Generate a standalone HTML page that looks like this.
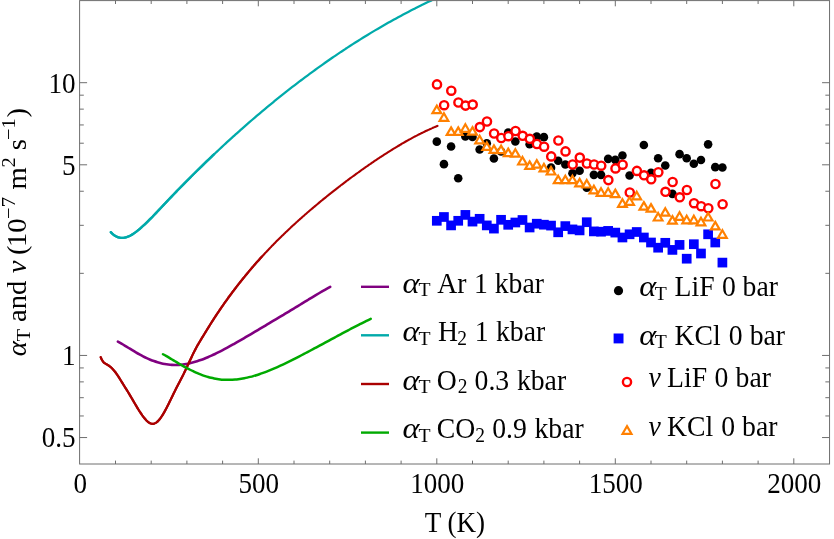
<!DOCTYPE html>
<html><head><meta charset="utf-8"><title>chart</title>
<style>html,body{margin:0;padding:0;background:#fff}body{width:834px;height:539px;overflow:hidden;font-family:"Liberation Serif",serif}svg{display:block}</style>
</head><body>
<svg width="834" height="539" viewBox="0 0 834 539">
<rect width="834" height="539" fill="#fff"/>
<defs><clipPath id="c"><rect x="79.6" y="0.6" width="749.9499999999999" height="463.4"/></clipPath></defs>
<g clip-path="url(#c)">
<path fill="none" stroke="#800080" stroke-width="2.6" stroke-linecap="round" d="M117.9 341.7C118.5 342.03 120.3 343.01 121.5 343.7C122.7 344.38 123.9 345.1 125.1 345.82C126.3 346.54 127.5 347.27 128.69 348C129.89 348.73 131.09 349.47 132.29 350.19C133.49 350.91 134.69 351.63 135.89 352.33C137.09 353.03 138.29 353.72 139.49 354.38C140.69 355.04 141.89 355.69 143.09 356.31C144.29 356.93 145.49 357.52 146.69 358.09C147.89 358.65 149.09 359.18 150.28 359.69C151.48 360.19 152.68 360.66 153.88 361.09C155.08 361.53 156.28 361.93 157.48 362.29C158.68 362.65 159.88 362.98 161.08 363.27C162.28 363.56 163.48 363.81 164.68 364.03C165.88 364.24 167.08 364.42 168.28 364.56C169.48 364.7 170.68 364.81 171.87 364.87C173.07 364.94 174.27 364.97 175.47 364.96C176.67 364.95 177.87 364.91 179.07 364.83C180.27 364.75 181.47 364.64 182.67 364.5C183.87 364.35 185.07 364.17 186.27 363.96C187.47 363.75 188.67 363.51 189.87 363.24C191.07 362.97 192.26 362.67 193.46 362.34C194.66 362.02 195.86 361.66 197.06 361.28C198.26 360.9 199.46 360.5 200.66 360.07C201.86 359.64 203.06 359.19 204.26 358.72C205.46 358.25 206.66 357.75 207.86 357.24C209.06 356.73 210.26 356.2 211.46 355.66C212.66 355.11 213.85 354.55 215.05 353.97C216.25 353.4 217.45 352.8 218.65 352.2C219.85 351.6 221.05 350.98 222.25 350.35C223.45 349.73 224.65 349.09 225.85 348.44C227.05 347.8 228.25 347.14 229.45 346.48C230.65 345.82 231.85 345.15 233.05 344.47C234.25 343.8 235.44 343.12 236.64 342.43C237.84 341.75 239.04 341.06 240.24 340.36C241.44 339.67 242.64 338.97 243.84 338.27C245.04 337.57 246.24 336.87 247.44 336.17C248.64 335.46 249.84 334.75 251.04 334.05C252.24 333.34 253.44 332.63 254.64 331.92C255.84 331.21 257.03 330.5 258.23 329.79C259.43 329.08 260.63 328.37 261.83 327.66C263.03 326.94 264.23 326.23 265.43 325.52C266.63 324.81 267.83 324.09 269.03 323.38C270.23 322.66 271.43 321.95 272.63 321.24C273.83 320.52 275.03 319.81 276.23 319.09C277.42 318.37 278.62 317.66 279.82 316.94C281.02 316.22 282.22 315.5 283.42 314.78C284.62 314.06 285.82 313.34 287.02 312.62C288.22 311.89 289.42 311.17 290.62 310.44C291.82 309.72 293.02 308.99 294.22 308.26C295.42 307.53 296.62 306.81 297.82 306.08C299.01 305.35 300.21 304.61 301.41 303.88C302.61 303.15 303.81 302.42 305.01 301.69C306.21 300.96 307.41 300.22 308.61 299.49C309.81 298.76 311.01 298.03 312.21 297.31C313.41 296.58 314.61 295.86 315.81 295.14C317.01 294.42 318.21 293.71 319.41 293C320.6 292.3 321.8 291.6 323 290.91C324.2 290.22 325.4 289.54 326.6 288.88C327.8 288.22 329.6 287.26 330.2 286.93"/>
<path fill="none" stroke="#00aaaa" stroke-width="2.25" stroke-linecap="round" d="M110.8 232.17C111.22 232.57 112.48 233.87 113.32 234.56C114.16 235.24 115 235.8 115.84 236.26C116.68 236.73 117.52 237.08 118.36 237.34C119.2 237.61 120.04 237.77 120.88 237.85C121.72 237.93 122.56 237.92 123.4 237.84C124.24 237.75 125.09 237.59 125.93 237.36C126.77 237.13 127.61 236.83 128.45 236.47C129.29 236.11 130.13 235.69 130.97 235.23C131.81 234.76 132.65 234.23 133.49 233.68C134.33 233.12 135.17 232.51 136.01 231.88C136.85 231.25 137.69 230.57 138.53 229.89C139.37 229.2 140.21 228.48 141.05 227.75C141.89 227.01 142.73 226.26 143.57 225.48C144.41 224.71 145.25 223.92 146.09 223.11C146.93 222.31 147.77 221.48 148.61 220.65C149.45 219.82 150.29 218.97 151.13 218.11C151.98 217.25 152.82 216.38 153.66 215.5C154.5 214.63 155.34 213.75 156.18 212.86C157.02 211.97 157.86 211.07 158.7 210.18C159.54 209.28 160.38 208.38 161.22 207.49C162.06 206.59 162.9 205.7 163.74 204.81C164.58 203.92 165.42 203.04 166.26 202.15C167.1 201.27 167.94 200.38 168.78 199.5C169.62 198.62 170.46 197.74 171.3 196.86C172.14 195.98 172.98 195.11 173.82 194.24C174.66 193.36 175.5 192.49 176.34 191.63C177.18 190.76 178.02 189.89 178.87 189.03C179.71 188.17 180.55 187.31 181.39 186.45C182.23 185.59 183.07 184.74 183.91 183.88C184.75 183.03 185.59 182.18 186.43 181.33C187.27 180.48 188.11 179.64 188.95 178.79C189.79 177.95 190.63 177.11 191.47 176.27C192.31 175.43 193.15 174.59 193.99 173.76C194.83 172.93 195.67 172.09 196.51 171.26C197.35 170.44 198.19 169.61 199.03 168.78C199.87 167.96 200.71 167.14 201.55 166.32C202.39 165.5 203.23 164.68 204.07 163.87C204.91 163.05 205.76 162.24 206.6 161.43C207.44 160.62 208.28 159.81 209.12 159.01C209.96 158.2 210.8 157.4 211.64 156.6C212.48 155.8 213.32 155 214.16 154.2C215 153.41 215.84 152.61 216.68 151.82C217.52 151.03 218.36 150.24 219.2 149.46C220.04 148.67 220.88 147.89 221.72 147.11C222.56 146.32 223.4 145.54 224.24 144.77C225.08 143.99 225.92 143.22 226.76 142.44C227.6 141.67 228.44 140.9 229.28 140.14C230.12 139.37 230.96 138.6 231.8 137.84C232.64 137.08 233.49 136.32 234.33 135.56C235.17 134.8 236.01 134.05 236.85 133.29C237.69 132.54 238.53 131.79 239.37 131.04C240.21 130.29 241.05 129.55 241.89 128.8C242.73 128.06 243.57 127.32 244.41 126.58C245.25 125.84 246.09 125.1 246.93 124.37C247.77 123.63 248.61 122.9 249.45 122.17C250.29 121.44 251.13 120.71 251.97 119.99C252.81 119.26 253.65 118.54 254.49 117.82C255.33 117.1 256.17 116.38 257.01 115.67C257.85 114.95 258.69 114.24 259.53 113.53C260.38 112.82 261.22 112.11 262.06 111.4C262.9 110.7 263.74 109.99 264.58 109.29C265.42 108.59 266.26 107.89 267.1 107.19C267.94 106.5 268.78 105.8 269.62 105.11C270.46 104.42 271.3 103.73 272.14 103.04C272.98 102.35 273.82 101.67 274.66 100.98C275.5 100.3 276.34 99.62 277.18 98.94C278.02 98.26 278.86 97.59 279.7 96.91C280.54 96.24 281.38 95.57 282.22 94.9C283.06 94.23 283.9 93.56 284.74 92.9C285.58 92.24 286.42 91.57 287.27 90.91C288.11 90.25 288.95 89.6 289.79 88.94C290.63 88.29 291.47 87.63 292.31 86.98C293.15 86.33 293.99 85.68 294.83 85.04C295.67 84.39 296.51 83.75 297.35 83.11C298.19 82.47 299.03 81.83 299.87 81.19C300.71 80.56 301.55 79.92 302.39 79.29C303.23 78.66 304.07 78.03 304.91 77.4C305.75 76.77 306.59 76.15 307.43 75.53C308.27 74.9 309.11 74.28 309.95 73.67C310.79 73.05 311.63 72.43 312.47 71.82C313.31 71.21 314.16 70.59 315 69.99C315.84 69.38 316.68 68.77 317.52 68.17C318.36 67.56 319.2 66.96 320.04 66.36C320.88 65.76 321.72 65.16 322.56 64.57C323.4 63.97 324.24 63.38 325.08 62.79C325.92 62.2 326.76 61.61 327.6 61.03C328.44 60.44 329.28 59.86 330.12 59.28C330.96 58.7 331.8 58.12 332.64 57.54C333.48 56.97 334.32 56.39 335.16 55.82C336 55.25 336.84 54.68 337.68 54.11C338.52 53.54 339.36 52.98 340.2 52.42C341.04 51.85 341.89 51.29 342.73 50.74C343.57 50.18 344.41 49.62 345.25 49.07C346.09 48.52 346.93 47.96 347.77 47.42C348.61 46.87 349.45 46.32 350.29 45.78C351.13 45.23 351.97 44.69 352.81 44.15C353.65 43.61 354.49 43.07 355.33 42.54C356.17 42 357.01 41.47 357.85 40.94C358.69 40.41 359.53 39.88 360.37 39.36C361.21 38.83 362.05 38.31 362.89 37.79C363.73 37.27 364.57 36.75 365.41 36.23C366.25 35.72 367.09 35.2 367.93 34.69C368.78 34.18 369.62 33.67 370.46 33.16C371.3 32.65 372.14 32.15 372.98 31.65C373.82 31.14 374.66 30.64 375.5 30.15C376.34 29.65 377.18 29.15 378.02 28.66C378.86 28.16 379.7 27.67 380.54 27.19C381.38 26.7 382.22 26.21 383.06 25.73C383.9 25.24 384.74 24.76 385.58 24.28C386.42 23.8 387.26 23.32 388.1 22.85C388.94 22.37 389.78 21.9 390.62 21.43C391.46 20.96 392.3 20.49 393.14 20.03C393.98 19.56 394.82 19.1 395.67 18.64C396.51 18.18 397.35 17.72 398.19 17.26C399.03 16.8 399.87 16.35 400.71 15.9C401.55 15.45 402.39 15 403.23 14.55C404.07 14.1 404.91 13.66 405.75 13.22C406.59 12.77 407.43 12.33 408.27 11.89C409.11 11.46 409.95 11.02 410.79 10.59C411.63 10.15 412.47 9.72 413.31 9.29C414.15 8.87 414.99 8.44 415.83 8.02C416.67 7.59 417.51 7.17 418.35 6.75C419.19 6.33 420.03 5.91 420.87 5.5C421.71 5.08 422.56 4.67 423.4 4.26C424.24 3.85 425.08 3.44 425.92 3.04C426.76 2.63 427.6 2.23 428.44 1.83C429.28 1.43 430.12 1.03 430.96 0.63C431.8 0.24 432.64 -0.16 433.48 -0.55C434.32 -0.94 435.58 -1.52 436 -1.72"/>
<path fill="none" stroke="#00aaaa" stroke-width="2.4" stroke-linecap="round" d="M110.8 232.17C111.22 232.57 112.48 233.87 113.32 234.56C114.16 235.24 115 235.8 115.84 236.26C116.68 236.73 117.52 237.08 118.36 237.34C119.2 237.61 120.04 237.77 120.88 237.85C121.72 237.93 122.56 237.92 123.4 237.84C124.24 237.75 125.09 237.59 125.93 237.36C126.77 237.13 127.61 236.83 128.45 236.47C129.29 236.11 130.13 235.69 130.97 235.23C131.81 234.76 132.65 234.23 133.49 233.68C134.33 233.12 135.17 232.51 136.01 231.88C136.85 231.25 137.69 230.57 138.53 229.89C139.37 229.2 140.21 228.48 141.05 227.75C141.89 227.01 142.73 226.26 143.57 225.48C144.41 224.71 145.25 223.92 146.09 223.11C146.93 222.31 147.77 221.48 148.61 220.65C149.45 219.82 150.29 218.97 151.13 218.11C151.98 217.25 152.82 216.38 153.66 215.5C154.5 214.63 155.34 213.75 156.18 212.86C157.02 211.97 157.86 211.07 158.7 210.18C159.54 209.28 160.38 208.38 161.22 207.49C162.06 206.59 162.9 205.7 163.74 204.81C164.58 203.92 165.42 203.04 166.26 202.15C167.1 201.27 167.94 200.38 168.78 199.5C169.62 198.62 170.46 197.74 171.3 196.86C172.14 195.98 172.98 195.11 173.82 194.24C174.66 193.36 175.5 192.49 176.34 191.63C177.18 190.76 178.02 189.89 178.87 189.03C179.71 188.17 180.55 187.31 181.39 186.45C182.23 185.59 183.07 184.74 183.91 183.88C184.75 183.03 185.59 182.18 186.43 181.33C187.27 180.48 188.11 179.64 188.95 178.79C189.79 177.95 190.63 177.11 191.47 176.27C192.31 175.43 193.15 174.59 193.99 173.76C194.83 172.93 195.67 172.09 196.51 171.26C197.35 170.44 198.19 169.61 199.03 168.78C199.87 167.96 200.71 167.14 201.55 166.32C202.39 165.5 203.23 164.68 204.07 163.87C204.91 163.05 205.76 162.24 206.6 161.43C207.44 160.62 208.28 159.81 209.12 159.01C209.96 158.2 210.8 157.4 211.64 156.6C212.48 155.8 213.74 154.6 214.16 154.2"/>
<path fill="none" stroke="#aa0000" stroke-width="2.1" stroke-linecap="round" d="M100.7 357.16C100.92 357.65 101.57 359.27 102 360.06C102.43 360.85 102.87 361.4 103.3 361.9C103.73 362.4 104.17 362.74 104.6 363.07C105.03 363.39 105.47 363.61 105.9 363.87C106.34 364.13 106.77 364.35 107.2 364.61C107.64 364.88 108.07 365.16 108.5 365.46C108.94 365.76 109.37 366.08 109.8 366.43C110.24 366.77 110.67 367.13 111.1 367.52C111.54 367.91 111.97 368.33 112.4 368.77C112.84 369.21 113.27 369.68 113.7 370.18C114.14 370.67 114.57 371.2 115 371.76C115.44 372.31 115.87 372.9 116.3 373.51C116.74 374.12 117.17 374.76 117.61 375.41C118.04 376.06 118.47 376.73 118.91 377.41C119.34 378.09 119.77 378.78 120.21 379.47C120.64 380.17 121.07 380.87 121.51 381.57C121.94 382.27 122.37 382.96 122.81 383.66C123.24 384.35 123.67 385.05 124.11 385.74C124.54 386.44 124.97 387.13 125.41 387.83C125.84 388.52 126.27 389.22 126.71 389.92C127.14 390.62 127.57 391.32 128.01 392.03C128.44 392.74 128.88 393.45 129.31 394.17C129.74 394.89 130.18 395.61 130.61 396.34C131.04 397.07 131.48 397.8 131.91 398.54C132.34 399.28 132.78 400.02 133.21 400.76C133.64 401.5 134.08 402.24 134.51 402.98C134.94 403.72 135.38 404.45 135.81 405.18C136.24 405.91 136.68 406.64 137.11 407.35C137.54 408.07 137.98 408.78 138.41 409.47C138.84 410.17 139.28 410.86 139.71 411.53C140.15 412.2 140.58 412.86 141.01 413.5C141.45 414.14 141.88 414.76 142.31 415.37C142.75 415.97 143.18 416.56 143.61 417.12C144.05 417.68 144.48 418.22 144.91 418.74C145.35 419.25 145.78 419.74 146.21 420.2C146.65 420.65 147.08 421.08 147.51 421.47C147.95 421.85 148.38 422.21 148.81 422.51C149.25 422.81 149.68 423.08 150.11 423.28C150.55 423.49 150.98 423.66 151.42 423.76C151.85 423.86 152.28 423.9 152.72 423.89C153.15 423.88 153.58 423.8 154.02 423.68C154.45 423.55 154.88 423.37 155.32 423.13C155.75 422.9 156.18 422.61 156.62 422.28C157.05 421.95 157.48 421.57 157.92 421.14C158.35 420.72 158.78 420.25 159.22 419.74C159.65 419.23 160.08 418.68 160.52 418.09C160.95 417.5 161.38 416.88 161.82 416.22C162.25 415.56 162.69 414.87 163.12 414.15C163.55 413.43 163.99 412.68 164.42 411.91C164.85 411.14 165.29 410.34 165.72 409.53C166.15 408.72 166.59 407.88 167.02 407.03C167.45 406.19 167.89 405.32 168.32 404.45C168.75 403.58 169.19 402.69 169.62 401.8C170.05 400.91 170.49 400.01 170.92 399.12C171.35 398.22 171.79 397.32 172.22 396.43C172.65 395.54 173.09 394.64 173.52 393.76C173.96 392.88 174.39 392 174.82 391.14C175.26 390.27 175.69 389.42 176.12 388.58C176.56 387.73 176.99 386.9 177.42 386.07C177.86 385.24 178.29 384.41 178.72 383.58C179.16 382.75 179.59 381.93 180.02 381.09C180.46 380.26 180.89 379.43 181.32 378.58C181.76 377.74 182.19 376.88 182.62 376.02C183.06 375.15 183.49 374.27 183.92 373.38C184.36 372.49 184.79 371.59 185.23 370.67C185.66 369.76 186.09 368.84 186.53 367.91C186.96 366.99 187.39 366.05 187.83 365.12C188.26 364.19 188.69 363.25 189.13 362.31C189.56 361.38 189.99 360.44 190.43 359.52C190.86 358.59 191.29 357.66 191.73 356.75C192.16 355.84 192.59 354.93 193.03 354.03C193.46 353.14 193.89 352.25 194.33 351.39C194.76 350.53 195.19 349.7 195.63 348.88C196.06 348.06 196.5 347.27 196.93 346.49C197.36 345.71 197.8 344.95 198.23 344.2C198.66 343.45 199.1 342.71 199.53 341.98C199.96 341.25 200.4 340.53 200.83 339.81C201.26 339.09 201.7 338.38 202.13 337.67C202.56 336.96 203 336.25 203.43 335.54C203.86 334.84 204.3 334.13 204.73 333.43C205.16 332.72 205.6 332.01 206.03 331.3C206.46 330.6 206.9 329.88 207.33 329.18C207.77 328.47 208.2 327.77 208.63 327.08C209.07 326.38 209.5 325.69 209.93 325C210.37 324.31 210.8 323.62 211.23 322.94C211.67 322.25 212.1 321.58 212.53 320.9C212.97 320.22 213.4 319.55 213.83 318.88C214.27 318.22 214.7 317.55 215.13 316.89C215.57 316.23 216 315.57 216.43 314.91C216.87 314.26 217.3 313.61 217.73 312.96C218.17 312.31 218.6 311.67 219.04 311.03C219.47 310.38 219.9 309.75 220.34 309.11C220.77 308.48 221.2 307.85 221.64 307.22C222.07 306.59 222.5 305.96 222.94 305.34C223.37 304.72 223.8 304.1 224.24 303.48C224.67 302.87 225.1 302.26 225.54 301.65C225.97 301.04 226.4 300.43 226.84 299.83C227.27 299.22 227.7 298.62 228.14 298.02C228.57 297.42 229 296.83 229.44 296.24C229.87 295.65 230.31 295.06 230.74 294.47C231.17 293.88 231.61 293.3 232.04 292.72C232.47 292.14 232.91 291.56 233.34 290.99C233.77 290.41 234.21 289.84 234.64 289.27C235.07 288.7 235.51 288.13 235.94 287.57C236.37 287.01 236.81 286.44 237.24 285.89C237.67 285.33 238.11 284.77 238.54 284.22C238.97 283.66 239.41 283.11 239.84 282.56C240.27 282.01 240.71 281.47 241.14 280.92C241.58 280.38 242.01 279.84 242.44 279.3C242.88 278.76 243.31 278.23 243.74 277.69C244.18 277.16 244.61 276.63 245.04 276.1C245.48 275.57 245.91 275.04 246.34 274.52C246.78 274 247.21 273.47 247.64 272.95C248.08 272.44 248.51 271.92 248.94 271.4C249.38 270.89 249.81 270.38 250.24 269.86C250.68 269.35 251.11 268.85 251.54 268.34C251.98 267.83 252.41 267.33 252.85 266.83C253.28 266.33 253.71 265.83 254.15 265.33C254.58 264.83 255.01 264.34 255.45 263.84C255.88 263.35 256.31 262.86 256.75 262.37C257.18 261.88 257.61 261.39 258.05 260.91C258.48 260.42 258.91 259.94 259.35 259.46C259.78 258.98 260.21 258.5 260.65 258.02C261.08 257.54 261.51 257.07 261.95 256.59C262.38 256.12 262.81 255.65 263.25 255.18C263.68 254.71 264.12 254.24 264.55 253.77C264.98 253.31 265.42 252.84 265.85 252.38C266.28 251.92 266.72 251.46 267.15 251C267.58 250.54 268.02 250.08 268.45 249.63C268.88 249.17 269.32 248.72 269.75 248.27C270.18 247.81 270.62 247.36 271.05 246.91C271.48 246.47 271.92 246.02 272.35 245.57C272.78 245.13 273.22 244.68 273.65 244.24C274.08 243.8 274.52 243.36 274.95 242.92C275.39 242.48 275.82 242.04 276.25 241.61C276.69 241.17 277.12 240.74 277.55 240.3C277.99 239.87 278.42 239.44 278.85 239.01C279.29 238.58 279.72 238.15 280.15 237.73C280.59 237.3 281.02 236.87 281.45 236.45C281.89 236.03 282.32 235.6 282.75 235.18C283.19 234.76 283.62 234.34 284.05 233.92C284.49 233.5 284.92 233.09 285.35 232.67C285.79 232.26 286.22 231.84 286.66 231.43C287.09 231.02 287.52 230.61 287.96 230.2C288.39 229.79 288.82 229.38 289.26 228.97C289.69 228.56 290.12 228.15 290.56 227.75C290.99 227.34 291.42 226.94 291.86 226.54C292.29 226.14 292.72 225.73 293.16 225.33C293.59 224.93 294.02 224.54 294.46 224.14C294.89 223.74 295.32 223.34 295.76 222.95C296.19 222.55 296.62 222.16 297.06 221.77C297.49 221.37 297.93 220.98 298.36 220.59C298.79 220.2 299.23 219.81 299.66 219.42C300.09 219.03 300.53 218.65 300.96 218.26C301.39 217.87 301.83 217.49 302.26 217.11C302.69 216.72 303.13 216.34 303.56 215.96C303.99 215.57 304.43 215.19 304.86 214.81C305.29 214.43 305.73 214.06 306.16 213.68C306.59 213.3 307.03 212.92 307.46 212.55C307.89 212.17 308.33 211.8 308.76 211.42C309.2 211.05 309.63 210.68 310.06 210.31C310.5 209.93 310.93 209.56 311.36 209.19C311.8 208.82 312.23 208.46 312.66 208.09C313.1 207.72 313.53 207.35 313.96 206.99C314.4 206.62 314.83 206.26 315.26 205.89C315.7 205.53 316.13 205.16 316.56 204.8C317 204.44 317.43 204.08 317.86 203.72C318.3 203.36 318.73 203 319.16 202.64C319.6 202.28 320.03 201.92 320.47 201.56C320.9 201.21 321.33 200.85 321.77 200.5C322.2 200.14 322.63 199.79 323.07 199.43C323.5 199.08 323.93 198.73 324.37 198.37C324.8 198.02 325.23 197.67 325.67 197.32C326.1 196.97 326.53 196.62 326.97 196.27C327.4 195.92 327.83 195.58 328.27 195.23C328.7 194.88 329.13 194.54 329.57 194.19C330 193.85 330.43 193.5 330.87 193.16C331.3 192.81 331.74 192.47 332.17 192.13C332.6 191.79 333.04 191.44 333.47 191.1C333.9 190.76 334.34 190.42 334.77 190.08C335.2 189.75 335.64 189.41 336.07 189.07C336.5 188.73 336.94 188.39 337.37 188.06C337.8 187.72 338.24 187.39 338.67 187.05C339.1 186.72 339.54 186.38 339.97 186.05C340.4 185.72 340.84 185.39 341.27 185.05C341.7 184.72 342.14 184.39 342.57 184.06C343.01 183.73 343.44 183.4 343.87 183.07C344.31 182.75 344.74 182.42 345.17 182.09C345.61 181.76 346.04 181.44 346.47 181.11C346.91 180.79 347.34 180.46 347.77 180.14C348.21 179.81 348.64 179.49 349.07 179.17C349.51 178.84 349.94 178.52 350.37 178.2C350.81 177.88 351.24 177.56 351.67 177.24C352.11 176.92 352.54 176.6 352.97 176.28C353.41 175.96 353.84 175.65 354.28 175.33C354.71 175.01 355.14 174.7 355.58 174.38C356.01 174.06 356.44 173.75 356.88 173.44C357.31 173.12 357.74 172.81 358.18 172.5C358.61 172.18 359.04 171.87 359.48 171.56C359.91 171.25 360.34 170.94 360.78 170.63C361.21 170.32 361.64 170.01 362.08 169.71C362.51 169.4 362.94 169.09 363.38 168.78C363.81 168.48 364.24 168.17 364.68 167.87C365.11 167.56 365.55 167.26 365.98 166.95C366.41 166.65 366.85 166.35 367.28 166.05C367.71 165.74 368.15 165.44 368.58 165.14C369.01 164.84 369.45 164.54 369.88 164.24C370.31 163.95 370.75 163.65 371.18 163.35C371.61 163.05 372.05 162.76 372.48 162.46C372.91 162.17 373.35 161.87 373.78 161.58C374.21 161.28 374.65 160.99 375.08 160.7C375.51 160.4 375.95 160.11 376.38 159.82C376.82 159.53 377.25 159.24 377.68 158.95C378.12 158.66 378.55 158.38 378.98 158.09C379.42 157.8 379.85 157.51 380.28 157.23C380.72 156.94 381.15 156.66 381.58 156.37C382.02 156.09 382.45 155.81 382.88 155.53C383.32 155.24 383.75 154.96 384.18 154.68C384.62 154.4 385.05 154.12 385.48 153.84C385.92 153.56 386.35 153.29 386.78 153.01C387.22 152.73 387.65 152.46 388.09 152.18C388.52 151.91 388.95 151.63 389.39 151.36C389.82 151.09 390.25 150.82 390.69 150.55C391.12 150.27 391.55 150 391.99 149.74C392.42 149.47 392.85 149.2 393.29 148.93C393.72 148.66 394.15 148.4 394.59 148.13C395.02 147.87 395.45 147.6 395.89 147.34C396.32 147.08 396.75 146.82 397.19 146.55C397.62 146.29 398.05 146.03 398.49 145.77C398.92 145.52 399.36 145.26 399.79 145C400.22 144.74 400.66 144.49 401.09 144.23C401.52 143.98 401.96 143.73 402.39 143.47C402.82 143.22 403.26 142.97 403.69 142.72C404.12 142.47 404.56 142.22 404.99 141.97C405.42 141.73 405.86 141.48 406.29 141.23C406.72 140.99 407.16 140.74 407.59 140.5C408.02 140.26 408.46 140.02 408.89 139.78C409.32 139.54 409.76 139.3 410.19 139.06C410.63 138.82 411.06 138.58 411.49 138.35C411.93 138.11 412.36 137.88 412.79 137.65C413.23 137.41 413.66 137.18 414.09 136.95C414.53 136.72 414.96 136.49 415.39 136.26C415.83 136.04 416.26 135.81 416.69 135.59C417.13 135.36 417.56 135.14 417.99 134.91C418.43 134.69 418.86 134.47 419.29 134.25C419.73 134.03 420.16 133.82 420.59 133.6C421.03 133.38 421.46 133.17 421.9 132.95C422.33 132.74 422.76 132.53 423.2 132.32C423.63 132.11 424.06 131.9 424.5 131.69C424.93 131.48 425.36 131.28 425.8 131.07C426.23 130.87 426.66 130.67 427.1 130.46C427.53 130.26 427.96 130.06 428.4 129.86C428.83 129.67 429.26 129.47 429.7 129.28C430.13 129.08 430.56 128.89 431 128.7C431.43 128.5 431.86 128.31 432.3 128.13C432.73 127.94 433.17 127.75 433.6 127.57C434.03 127.38 434.47 127.2 434.9 127.02C435.33 126.84 435.77 126.66 436.2 126.48C436.63 126.3 437.28 126.04 437.5 125.95"/>
<path fill="none" stroke="#aa0000" stroke-width="2.25" stroke-linecap="round" d="M100.7 357.16C100.92 357.65 101.57 359.27 102 360.06C102.43 360.85 102.87 361.4 103.3 361.9C103.73 362.4 104.17 362.74 104.6 363.07C105.03 363.39 105.47 363.61 105.9 363.87C106.34 364.13 106.77 364.35 107.2 364.61C107.64 364.88 108.07 365.16 108.5 365.46C108.94 365.76 109.37 366.08 109.8 366.43C110.24 366.77 110.67 367.13 111.1 367.52C111.54 367.91 111.97 368.33 112.4 368.77C112.84 369.21 113.27 369.68 113.7 370.18C114.14 370.67 114.57 371.2 115 371.76C115.44 372.31 115.87 372.9 116.3 373.51C116.74 374.12 117.17 374.76 117.61 375.41C118.04 376.06 118.47 376.73 118.91 377.41C119.34 378.09 119.77 378.78 120.21 379.47C120.64 380.17 121.07 380.87 121.51 381.57C121.94 382.27 122.37 382.96 122.81 383.66C123.24 384.35 123.67 385.05 124.11 385.74C124.54 386.44 124.97 387.13 125.41 387.83C125.84 388.52 126.27 389.22 126.71 389.92C127.14 390.62 127.57 391.32 128.01 392.03C128.44 392.74 128.88 393.45 129.31 394.17C129.74 394.89 130.18 395.61 130.61 396.34C131.04 397.07 131.48 397.8 131.91 398.54C132.34 399.28 132.78 400.02 133.21 400.76C133.64 401.5 134.08 402.24 134.51 402.98C134.94 403.72 135.38 404.45 135.81 405.18C136.24 405.91 136.68 406.64 137.11 407.35C137.54 408.07 137.98 408.78 138.41 409.47C138.84 410.17 139.28 410.86 139.71 411.53C140.15 412.2 140.58 412.86 141.01 413.5C141.45 414.14 141.88 414.76 142.31 415.37C142.75 415.97 143.18 416.56 143.61 417.12C144.05 417.68 144.48 418.22 144.91 418.74C145.35 419.25 145.78 419.74 146.21 420.2C146.65 420.65 147.08 421.08 147.51 421.47C147.95 421.85 148.38 422.21 148.81 422.51C149.25 422.81 149.68 423.08 150.11 423.28C150.55 423.49 150.98 423.66 151.42 423.76C151.85 423.86 152.28 423.9 152.72 423.89C153.15 423.88 153.58 423.8 154.02 423.68C154.45 423.55 154.88 423.37 155.32 423.13C155.75 422.9 156.18 422.61 156.62 422.28C157.05 421.95 157.48 421.57 157.92 421.14C158.35 420.72 158.78 420.25 159.22 419.74C159.65 419.23 160.08 418.68 160.52 418.09C160.95 417.5 161.38 416.88 161.82 416.22C162.25 415.56 162.69 414.87 163.12 414.15C163.55 413.43 163.99 412.68 164.42 411.91C164.85 411.14 165.29 410.34 165.72 409.53C166.15 408.72 166.59 407.88 167.02 407.03C167.45 406.19 167.89 405.32 168.32 404.45C168.75 403.58 169.19 402.69 169.62 401.8C170.05 400.91 170.49 400.01 170.92 399.12C171.35 398.22 171.79 397.32 172.22 396.43C172.65 395.54 173.09 394.64 173.52 393.76C173.96 392.88 174.39 392 174.82 391.14C175.26 390.27 175.69 389.42 176.12 388.58C176.56 387.73 176.99 386.9 177.42 386.07C177.86 385.24 178.29 384.41 178.72 383.58C179.16 382.75 179.59 381.93 180.02 381.09C180.46 380.26 180.89 379.43 181.32 378.58C181.76 377.74 182.19 376.88 182.62 376.02C183.06 375.15 183.49 374.27 183.92 373.38C184.36 372.49 184.79 371.59 185.23 370.67C185.66 369.76 186.09 368.84 186.53 367.91C186.96 366.99 187.39 366.05 187.83 365.12C188.26 364.19 188.69 363.25 189.13 362.31C189.56 361.38 189.99 360.44 190.43 359.52C190.86 358.59 191.29 357.66 191.73 356.75C192.16 355.84 192.59 354.93 193.03 354.03C193.46 353.14 193.89 352.25 194.33 351.39C194.76 350.53 195.19 349.7 195.63 348.88C196.06 348.06 196.5 347.27 196.93 346.49C197.36 345.71 197.8 344.95 198.23 344.2C198.66 343.45 199.1 342.71 199.53 341.98C199.96 341.25 200.4 340.53 200.83 339.81C201.26 339.09 201.7 338.38 202.13 337.67C202.56 336.96 203 336.25 203.43 335.54C203.86 334.84 204.3 334.13 204.73 333.43C205.16 332.72 205.6 332.01 206.03 331.3C206.46 330.6 206.9 329.88 207.33 329.18C207.77 328.47 208.2 327.77 208.63 327.08C209.07 326.38 209.5 325.69 209.93 325C210.37 324.31 210.8 323.62 211.23 322.94C211.67 322.25 212.1 321.58 212.53 320.9C212.97 320.22 213.4 319.55 213.83 318.88C214.27 318.22 214.7 317.55 215.13 316.89C215.57 316.23 216 315.57 216.43 314.91C216.87 314.26 217.3 313.61 217.73 312.96C218.17 312.31 218.6 311.67 219.04 311.03C219.47 310.38 219.9 309.75 220.34 309.11C220.77 308.48 221.2 307.85 221.64 307.22C222.07 306.59 222.5 305.96 222.94 305.34C223.37 304.72 223.8 304.1 224.24 303.48C224.67 302.87 225.1 302.26 225.54 301.65C225.97 301.04 226.4 300.43 226.84 299.83C227.27 299.22 227.7 298.62 228.14 298.02C228.57 297.42 229 296.83 229.44 296.24C229.87 295.65 230.31 295.06 230.74 294.47C231.17 293.88 231.61 293.3 232.04 292.72C232.47 292.14 232.91 291.56 233.34 290.99C233.77 290.41 234.21 289.84 234.64 289.27C235.07 288.7 235.51 288.13 235.94 287.57C236.37 287.01 236.81 286.44 237.24 285.89C237.67 285.33 238.11 284.77 238.54 284.22C238.97 283.66 239.41 283.11 239.84 282.56C240.27 282.01 240.71 281.47 241.14 280.92C241.58 280.38 242.01 279.84 242.44 279.3C242.88 278.76 243.31 278.23 243.74 277.69C244.18 277.16 244.61 276.63 245.04 276.1C245.48 275.57 245.91 275.04 246.34 274.52C246.78 274 247.21 273.47 247.64 272.95C248.08 272.44 248.51 271.92 248.94 271.4C249.38 270.89 249.81 270.38 250.24 269.86C250.68 269.35 251.11 268.85 251.54 268.34C251.98 267.83 252.41 267.33 252.85 266.83C253.28 266.33 253.71 265.83 254.15 265.33C254.58 264.83 255.01 264.34 255.45 263.84C255.88 263.35 256.31 262.86 256.75 262.37C257.18 261.88 257.61 261.39 258.05 260.91C258.48 260.42 258.91 259.94 259.35 259.46C259.78 258.98 260.21 258.5 260.65 258.02C261.08 257.54 261.73 256.83 261.95 256.59"/>
<path fill="none" stroke="#00aa00" stroke-width="2.5" stroke-linecap="round" d="M163 354.23C163.5 354.51 165.01 355.34 166.01 355.92C167.01 356.49 168.02 357.08 169.02 357.67C170.02 358.27 171.03 358.87 172.03 359.47C173.03 360.07 174.04 360.67 175.04 361.27C176.04 361.87 177.05 362.47 178.05 363.07C179.05 363.66 180.06 364.25 181.06 364.83C182.06 365.41 183.07 365.98 184.07 366.54C185.07 367.1 186.08 367.65 187.08 368.19C188.08 368.73 189.09 369.25 190.09 369.76C191.09 370.27 192.1 370.77 193.1 371.24C194.1 371.72 195.11 372.18 196.11 372.63C197.11 373.07 198.12 373.49 199.12 373.9C200.13 374.31 201.13 374.69 202.13 375.06C203.14 375.43 204.14 375.77 205.14 376.1C206.15 376.42 207.15 376.73 208.15 377.01C209.16 377.3 210.16 377.56 211.16 377.8C212.17 378.04 213.17 378.26 214.17 378.46C215.18 378.66 216.18 378.84 217.18 378.99C218.19 379.15 219.19 379.28 220.19 379.4C221.2 379.51 222.2 379.6 223.2 379.67C224.21 379.74 225.21 379.79 226.21 379.82C227.22 379.85 228.22 379.86 229.22 379.85C230.23 379.83 231.23 379.8 232.23 379.75C233.24 379.7 234.24 379.63 235.24 379.54C236.25 379.45 237.25 379.34 238.25 379.22C239.26 379.09 240.26 378.95 241.26 378.79C242.27 378.63 243.27 378.45 244.27 378.25C245.28 378.06 246.28 377.85 247.28 377.62C248.29 377.39 249.29 377.15 250.29 376.89C251.3 376.64 252.3 376.37 253.3 376.08C254.31 375.8 255.31 375.5 256.31 375.19C257.32 374.87 258.32 374.55 259.32 374.21C260.33 373.88 261.33 373.53 262.33 373.17C263.34 372.81 264.34 372.44 265.34 372.06C266.35 371.67 267.35 371.28 268.36 370.88C269.36 370.48 270.36 370.07 271.37 369.65C272.37 369.23 273.37 368.81 274.38 368.37C275.38 367.94 276.38 367.49 277.39 367.05C278.39 366.6 279.39 366.14 280.4 365.68C281.4 365.21 282.4 364.74 283.41 364.27C284.41 363.79 285.41 363.31 286.42 362.83C287.42 362.34 288.42 361.85 289.43 361.36C290.43 360.86 291.43 360.36 292.44 359.86C293.44 359.36 294.44 358.85 295.45 358.34C296.45 357.83 297.45 357.32 298.46 356.8C299.46 356.28 300.46 355.76 301.47 355.24C302.47 354.72 303.47 354.2 304.48 353.67C305.48 353.14 306.48 352.62 307.49 352.09C308.49 351.56 309.49 351.02 310.5 350.49C311.5 349.96 312.5 349.42 313.51 348.89C314.51 348.35 315.51 347.82 316.52 347.28C317.52 346.74 318.52 346.2 319.53 345.66C320.53 345.12 321.53 344.58 322.54 344.04C323.54 343.5 324.54 342.96 325.55 342.42C326.55 341.88 327.55 341.34 328.56 340.8C329.56 340.26 330.56 339.72 331.57 339.18C332.57 338.63 333.57 338.09 334.58 337.55C335.58 337.01 336.59 336.47 337.59 335.93C338.59 335.39 339.6 334.86 340.6 334.32C341.6 333.78 342.61 333.24 343.61 332.71C344.61 332.17 345.62 331.64 346.62 331.1C347.62 330.57 348.63 330.04 349.63 329.51C350.63 328.98 351.64 328.45 352.64 327.92C353.64 327.4 354.65 326.88 355.65 326.36C356.65 325.84 357.66 325.32 358.66 324.8C359.66 324.29 360.67 323.78 361.67 323.28C362.67 322.77 363.68 322.27 364.68 321.77C365.68 321.28 366.69 320.78 367.69 320.3C368.69 319.82 370.2 319.1 370.7 318.87"/>
</g>
<g fill="#000"><circle cx="436.8" cy="141.65" r="4.3"/><circle cx="443.94" cy="164.15" r="4.3"/><circle cx="451.08" cy="146.45" r="4.3"/><circle cx="458.22" cy="178.25" r="4.3"/><circle cx="465.36" cy="136.45" r="4.3"/><circle cx="472.5" cy="137.05" r="4.3"/><circle cx="479.64" cy="149.55" r="4.3"/><circle cx="486.78" cy="143.25" r="4.3"/><circle cx="493.92" cy="158.55" r="4.3"/><circle cx="501.06" cy="151.55" r="4.3"/><circle cx="508.2" cy="132.55" r="4.3"/><circle cx="515.34" cy="141.45" r="4.3"/><circle cx="529.62" cy="144.25" r="4.3"/><circle cx="536.76" cy="136.65" r="4.3"/><circle cx="543.9" cy="137.15" r="4.3"/><circle cx="551.04" cy="167.65" r="4.3"/><circle cx="558.18" cy="160.75" r="4.3"/><circle cx="565.32" cy="164.55" r="4.3"/><circle cx="572.46" cy="173.25" r="4.3"/><circle cx="579.6" cy="170.75" r="4.3"/><circle cx="586.74" cy="187.65" r="4.3"/><circle cx="593.88" cy="174.85" r="4.3"/><circle cx="601.02" cy="174.85" r="4.3"/><circle cx="608.16" cy="158.85" r="4.3"/><circle cx="615.3" cy="159.85" r="4.3"/><circle cx="622.44" cy="155.45" r="4.3"/><circle cx="629.58" cy="175.45" r="4.3"/><circle cx="643.86" cy="145.05" r="4.3"/><circle cx="651" cy="172.75" r="4.3"/><circle cx="658.14" cy="158.25" r="4.3"/><circle cx="665.28" cy="165.45" r="4.3"/><circle cx="672.42" cy="193.85" r="4.3"/><circle cx="679.56" cy="154.15" r="4.3"/><circle cx="686.7" cy="158.25" r="4.3"/><circle cx="693.84" cy="163.75" r="4.3"/><circle cx="700.98" cy="159.95" r="4.3"/><circle cx="708.12" cy="144.35" r="4.3"/><circle cx="715.26" cy="167.15" r="4.3"/><circle cx="722.4" cy="167.55" r="4.3"/></g>
<g fill="#0000ff"><rect x="431.95" y="215.95" width="9.7" height="9.7"/><rect x="439.09" y="212.15" width="9.7" height="9.7"/><rect x="446.23" y="220.55" width="9.7" height="9.7"/><rect x="453.37" y="215.95" width="9.7" height="9.7"/><rect x="460.51" y="210.05" width="9.7" height="9.7"/><rect x="467.65" y="216.75" width="9.7" height="9.7"/><rect x="474.79" y="213.95" width="9.7" height="9.7"/><rect x="481.93" y="220.55" width="9.7" height="9.7"/><rect x="489.07" y="223.75" width="9.7" height="9.7"/><rect x="496.21" y="214.95" width="9.7" height="9.7"/><rect x="503.35" y="219.95" width="9.7" height="9.7"/><rect x="510.49" y="217.65" width="9.7" height="9.7"/><rect x="517.63" y="215.15" width="9.7" height="9.7"/><rect x="524.77" y="222.65" width="9.7" height="9.7"/><rect x="531.91" y="218.85" width="9.7" height="9.7"/><rect x="539.05" y="219.85" width="9.7" height="9.7"/><rect x="546.19" y="220.75" width="9.7" height="9.7"/><rect x="553.33" y="227.45" width="9.7" height="9.7"/><rect x="560.47" y="221.25" width="9.7" height="9.7"/><rect x="567.61" y="224.55" width="9.7" height="9.7"/><rect x="574.75" y="225.55" width="9.7" height="9.7"/><rect x="581.89" y="217.35" width="9.7" height="9.7"/><rect x="589.03" y="226.55" width="9.7" height="9.7"/><rect x="596.17" y="226.85" width="9.7" height="9.7"/><rect x="603.31" y="226.05" width="9.7" height="9.7"/><rect x="610.45" y="227.75" width="9.7" height="9.7"/><rect x="617.59" y="232.65" width="9.7" height="9.7"/><rect x="624.73" y="229.45" width="9.7" height="9.7"/><rect x="631.87" y="227.15" width="9.7" height="9.7"/><rect x="639.01" y="232.65" width="9.7" height="9.7"/><rect x="646.15" y="237.65" width="9.7" height="9.7"/><rect x="653.29" y="242.85" width="9.7" height="9.7"/><rect x="660.43" y="237.95" width="9.7" height="9.7"/><rect x="667.57" y="245.05" width="9.7" height="9.7"/><rect x="674.71" y="240.05" width="9.7" height="9.7"/><rect x="681.85" y="253.85" width="9.7" height="9.7"/><rect x="688.99" y="239.35" width="9.7" height="9.7"/><rect x="696.13" y="248.65" width="9.7" height="9.7"/><rect x="703.27" y="229.45" width="9.7" height="9.7"/><rect x="710.41" y="237.65" width="9.7" height="9.7"/><rect x="717.55" y="257.75" width="9.7" height="9.7"/></g>
<g fill="#fff" stroke="#ff0000" stroke-width="2.4"><circle cx="437" cy="84.4" r="4.1"/><circle cx="444.14" cy="105.2" r="4.1"/><circle cx="451.28" cy="90.7" r="4.1"/><circle cx="458.42" cy="102.5" r="4.1"/><circle cx="465.56" cy="105.6" r="4.1"/><circle cx="472.7" cy="104.6" r="4.1"/><circle cx="479.84" cy="127.1" r="4.1"/><circle cx="486.98" cy="121.5" r="4.1"/><circle cx="494.12" cy="133.5" r="4.1"/><circle cx="501.26" cy="138" r="4.1"/><circle cx="508.4" cy="136.2" r="4.1"/><circle cx="515.54" cy="131" r="4.1"/><circle cx="522.68" cy="135.8" r="4.1"/><circle cx="529.82" cy="138.8" r="4.1"/><circle cx="536.96" cy="144" r="4.1"/><circle cx="544.1" cy="146.7" r="4.1"/><circle cx="551.24" cy="156.4" r="4.1"/><circle cx="558.38" cy="140.5" r="4.1"/><circle cx="565.52" cy="151.4" r="4.1"/><circle cx="572.66" cy="164.5" r="4.1"/><circle cx="579.8" cy="157.6" r="4.1"/><circle cx="586.94" cy="163.5" r="4.1"/><circle cx="594.08" cy="164.5" r="4.1"/><circle cx="601.22" cy="165.7" r="4.1"/><circle cx="608.36" cy="180.1" r="4.1"/><circle cx="615.5" cy="168.4" r="4.1"/><circle cx="622.64" cy="164.7" r="4.1"/><circle cx="629.78" cy="192.5" r="4.1"/><circle cx="636.92" cy="170.9" r="4.1"/><circle cx="644.06" cy="175.3" r="4.1"/><circle cx="651.2" cy="179.3" r="4.1"/><circle cx="658.34" cy="172.2" r="4.1"/><circle cx="665.48" cy="191.8" r="4.1"/><circle cx="672.62" cy="182" r="4.1"/><circle cx="679.76" cy="197.3" r="4.1"/><circle cx="686.9" cy="190" r="4.1"/><circle cx="694.04" cy="203.2" r="4.1"/><circle cx="701.18" cy="206.2" r="4.1"/><circle cx="708.32" cy="208.2" r="4.1"/><circle cx="715.46" cy="184" r="4.1"/><circle cx="722.6" cy="204.2" r="4.1"/></g>
<g fill="#fff" stroke="#ff8000" stroke-width="2.2" stroke-linejoin="miter" stroke-miterlimit="10"><path d="M436.8 105.58L441.15 113.12L432.45 113.12Z"/><path d="M443.94 113.28L448.29 120.82L439.59 120.82Z"/><path d="M451.08 127.38L455.43 134.92L446.73 134.92Z"/><path d="M458.22 127.38L462.57 134.92L453.87 134.92Z"/><path d="M465.36 124.28L469.71 131.82L461.01 131.82Z"/><path d="M472.5 127.08L476.85 134.62L468.15 134.62Z"/><path d="M479.64 135.78L483.99 143.32L475.29 143.32Z"/><path d="M486.78 142.38L491.13 149.92L482.43 149.92Z"/><path d="M493.92 145.38L498.27 152.92L489.57 152.92Z"/><path d="M501.06 145.58L505.41 153.12L496.71 153.12Z"/><path d="M508.2 148.58L512.55 156.12L503.85 156.12Z"/><path d="M515.34 149.18L519.69 156.72L510.99 156.72Z"/><path d="M522.48 156.98L526.83 164.52L518.13 164.52Z"/><path d="M529.62 161.38L533.97 168.92L525.27 168.92Z"/><path d="M536.76 160.08L541.11 167.62L532.41 167.62Z"/><path d="M543.9 163.88L548.25 171.42L539.55 171.42Z"/><path d="M551.04 166.98L555.39 174.52L546.69 174.52Z"/><path d="M558.18 175.68L562.53 183.22L553.83 183.22Z"/><path d="M565.32 175.68L569.67 183.22L560.97 183.22Z"/><path d="M572.46 175.68L576.81 183.22L568.11 183.22Z"/><path d="M579.6 178.88L583.95 186.42L575.25 186.42Z"/><path d="M586.74 179.98L591.09 187.52L582.39 187.52Z"/><path d="M593.88 185.78L598.23 193.32L589.53 193.32Z"/><path d="M601.02 188.28L605.37 195.82L596.67 195.82Z"/><path d="M608.16 188.28L612.51 195.82L603.81 195.82Z"/><path d="M615.3 189.58L619.65 197.12L610.95 197.12Z"/><path d="M622.44 199.28L626.79 206.82L618.09 206.82Z"/><path d="M629.58 197.28L633.93 204.82L625.23 204.82Z"/><path d="M636.72 191.78L641.07 199.32L632.37 199.32Z"/><path d="M643.86 202.08L648.21 209.62L639.51 209.62Z"/><path d="M651 204.08L655.35 211.62L646.65 211.62Z"/><path d="M658.14 212.98L662.49 220.52L653.79 220.52Z"/><path d="M665.28 208.18L669.63 215.72L660.93 215.72Z"/><path d="M672.42 216.08L676.77 223.62L668.07 223.62Z"/><path d="M679.56 212.28L683.91 219.82L675.21 219.82Z"/><path d="M686.7 215.78L691.05 223.32L682.35 223.32Z"/><path d="M693.84 215.78L698.19 223.32L689.49 223.32Z"/><path d="M700.98 217.78L705.33 225.32L696.63 225.32Z"/><path d="M708.12 212.98L712.47 220.52L703.77 220.52Z"/><path d="M715.26 221.88L719.61 229.42L710.91 229.42Z"/><path d="M722.4 230.28L726.75 237.82L718.05 237.82Z"/></g>
<g stroke="#6e6e6e" stroke-width="1" fill="none" shape-rendering="auto">
<rect x="79.6" y="0.6" width="749.9499999999999" height="463.4"/>
<path d="M115.5 464.0v-3.4M115.5 0.6v3.4M151.2 464.0v-3.4M151.2 0.6v3.4M186.9 464.0v-3.4M186.9 0.6v3.4M222.6 464.0v-3.4M222.6 0.6v3.4M258.3 464.0v-5.7M258.3 0.6v5.7M294 464.0v-3.4M294 0.6v3.4M329.7 464.0v-3.4M329.7 0.6v3.4M365.4 464.0v-3.4M365.4 0.6v3.4M401.1 464.0v-3.4M401.1 0.6v3.4M436.8 464.0v-5.7M436.8 0.6v5.7M472.5 464.0v-3.4M472.5 0.6v3.4M508.2 464.0v-3.4M508.2 0.6v3.4M543.9 464.0v-3.4M543.9 0.6v3.4M579.6 464.0v-3.4M579.6 0.6v3.4M615.3 464.0v-5.7M615.3 0.6v5.7M651 464.0v-3.4M651 0.6v3.4M686.7 464.0v-3.4M686.7 0.6v3.4M722.4 464.0v-3.4M722.4 0.6v3.4M758.1 464.0v-3.4M758.1 0.6v3.4M793.8 464.0v-5.7M793.8 0.6v5.7M79.6 437.56h7.5M829.55 437.56h-7.5M79.6 415.96h4.2M829.55 415.96h-4.2M79.6 397.7h4.2M829.55 397.7h-4.2M79.6 381.88h4.2M829.55 381.88h-4.2M79.6 367.93h4.2M829.55 367.93h-4.2M79.6 355.45h7.5M829.55 355.45h-7.5M79.6 273.34h4.2M829.55 273.34h-4.2M79.6 225.32h4.2M829.55 225.32h-4.2M79.6 191.24h4.2M829.55 191.24h-4.2M79.6 164.81h7.5M829.55 164.81h-7.5M79.6 143.21h4.2M829.55 143.21h-4.2M79.6 124.95h4.2M829.55 124.95h-4.2M79.6 109.13h4.2M829.55 109.13h-4.2M79.6 95.18h4.2M829.55 95.18h-4.2M79.6 82.7h7.5M829.55 82.7h-7.5"/>
</g>
<g font-family="'Liberation Serif', serif" font-size="27" fill="#000" opacity="0.999">
<text transform="translate(80.3,492.9) scale(0.928,1)" font-size="29.2" text-anchor="middle">0</text>
<text transform="translate(258.8,492.9) scale(0.928,1)" font-size="29.2" text-anchor="middle">500</text>
<text transform="translate(437.3,492.9) scale(0.928,1)" font-size="29.2" text-anchor="middle">1000</text>
<text transform="translate(615.8,492.9) scale(0.928,1)" font-size="29.2" text-anchor="middle">1500</text>
<text transform="translate(794.3,492.9) scale(0.928,1)" font-size="29.2" text-anchor="middle">2000</text>
<text transform="translate(75.6,92.6) scale(0.928,1)" font-size="29.2" text-anchor="end">10</text>
<text transform="translate(75.6,174.71) scale(0.928,1)" font-size="29.2" text-anchor="end">5</text>
<text transform="translate(75.6,365.35) scale(0.928,1)" font-size="29.2" text-anchor="end">1</text>
<text transform="translate(75.6,447.46) scale(0.928,1)" font-size="29.2" text-anchor="end">0.5</text>
<text transform="translate(454.9,531.8) scale(0.928,1)" font-size="29.2" text-anchor="middle">T (K)</text>
<text transform="translate(25.8,356.2) rotate(-90) scale(1.05,1)" font-size="27.3" font-style="italic">α</text>
<text transform="translate(29.6,341.5) rotate(-90) scale(1.05,1)" font-size="19.5">T</text>
<text transform="translate(25.8,322) rotate(-90) scale(1.05,1)" font-size="27.3">and</text>
<text transform="translate(25.8,273.3) rotate(-90) scale(1.05,1)" font-size="27.3" font-style="italic">ν</text>
<text transform="translate(25.8,255.1) rotate(-90) scale(1.05,1)" font-size="27.3">(</text>
<text transform="translate(25.8,247.1) rotate(-90) scale(1.05,1)" font-size="27.3">10</text>
<text transform="translate(15.2,218.9) rotate(-90) scale(1.05,1)" font-size="19.5">−7</text>
<text transform="translate(25.8,189.5) rotate(-90) scale(1.05,1)" font-size="27.3">m</text>
<text transform="translate(15.2,167.6) rotate(-90) scale(1.05,1)" font-size="19.5">2</text>
<text transform="translate(25.8,150.2) rotate(-90) scale(1.05,1)" font-size="27.3">s</text>
<text transform="translate(15.2,140) rotate(-90) scale(1.05,1)" font-size="19.5">−1</text>
<text transform="translate(25.8,117.4) rotate(-90) scale(1.05,1)" font-size="27.3">)</text>
</g>
<g font-family="'Liberation Serif', serif" font-size="29.2" fill="#000" opacity="0.999">
<path d="M361 286.8H389" stroke="#800080" stroke-width="2.4" fill="none"/>
<text transform="translate(402.6,292.65) scale(1.1103299999999998,1)" font-size="29.2" text-anchor="start" font-style="italic">α</text><text transform="translate(418.4,296.25) scale(1.05,1)" font-size="18.8" text-anchor="start">T</text><text transform="translate(437.3,292.65) scale(0.949,1)" font-size="29.2" text-anchor="start">Ar</text><text transform="translate(474,292.65) scale(0.949,1)" font-size="29.2" text-anchor="start">1</text><text transform="translate(494.7,292.65) scale(0.949,1)" font-size="29.2" text-anchor="start">kbar</text>
<path d="M361 335.3H389" stroke="#00aaaa" stroke-width="2.4" fill="none"/>
<text transform="translate(402.6,341.15) scale(1.1103299999999998,1)" font-size="29.2" text-anchor="start" font-style="italic">α</text><text transform="translate(418.4,344.75) scale(1.05,1)" font-size="18.8" text-anchor="start">T</text><text transform="translate(437.9,341.15) scale(0.949,1)" font-size="29.2" text-anchor="start">H</text><text transform="translate(457.2,344.75) scale(0.949,1)" font-size="20.5" text-anchor="start">2</text><text transform="translate(474.8,341.15) scale(0.949,1)" font-size="29.2" text-anchor="start">1</text><text transform="translate(496,341.15) scale(0.949,1)" font-size="29.2" text-anchor="start">kbar</text>
<path d="M361 384H389" stroke="#aa0000" stroke-width="2.4" fill="none"/>
<text transform="translate(402.6,389.85) scale(1.1103299999999998,1)" font-size="29.2" text-anchor="start" font-style="italic">α</text><text transform="translate(418.4,393.45) scale(1.05,1)" font-size="18.8" text-anchor="start">T</text><text transform="translate(436.7,389.85) scale(0.949,1)" font-size="29.2" text-anchor="start">O</text><text transform="translate(457.7,393.45) scale(0.949,1)" font-size="20.5" text-anchor="start">2</text><text transform="translate(474.6,389.85) scale(0.949,1)" font-size="29.2" text-anchor="start">0.3</text><text transform="translate(516.9,389.85) scale(0.949,1)" font-size="29.2" text-anchor="start">kbar</text>
<path d="M361 432.6H389" stroke="#00aa00" stroke-width="2.4" fill="none"/>
<text transform="translate(402.6,438.45) scale(1.1103299999999998,1)" font-size="29.2" text-anchor="start" font-style="italic">α</text><text transform="translate(418.4,442.05) scale(1.05,1)" font-size="18.8" text-anchor="start">T</text><text transform="translate(436.8,438.45) scale(0.949,1)" font-size="29.2" text-anchor="start">CO</text><text transform="translate(475.3,442.05) scale(0.949,1)" font-size="20.5" text-anchor="start">2</text><text transform="translate(492.2,438.45) scale(0.949,1)" font-size="29.2" text-anchor="start">0.9</text><text transform="translate(534.5,438.45) scale(0.949,1)" font-size="29.2" text-anchor="start">kbar</text>
<text transform="translate(639.3,296) scale(1.1103299999999998,1)" font-size="29.2" text-anchor="start" font-style="italic">α</text><text transform="translate(654.7,299.6) scale(1.05,1)" font-size="18.8" text-anchor="start">T</text><text transform="translate(674.6,296) scale(0.949,1)" font-size="29.2" text-anchor="start">LiF</text><text transform="translate(722,296) scale(0.949,1)" font-size="29.2" text-anchor="start">0</text><text transform="translate(742.6,296) scale(0.949,1)" font-size="29.2" text-anchor="start">bar</text>
<text transform="translate(639.3,344.6) scale(1.1103299999999998,1)" font-size="29.2" text-anchor="start" font-style="italic">α</text><text transform="translate(654.7,348.2) scale(1.05,1)" font-size="18.8" text-anchor="start">T</text><text transform="translate(674.6,344.6) scale(0.949,1)" font-size="29.2" text-anchor="start">KCl</text><text transform="translate(728.8,344.6) scale(0.949,1)" font-size="29.2" text-anchor="start">0</text><text transform="translate(749.7,344.6) scale(0.949,1)" font-size="29.2" text-anchor="start">bar</text>
<text transform="translate(648.4,387.4) scale(0.949,1)" font-size="29.2" text-anchor="start" font-style="italic">ν</text><text transform="translate(667.1,387.4) scale(0.949,1)" font-size="29.2" text-anchor="start">LiF</text><text transform="translate(714.4,387.4) scale(0.949,1)" font-size="29.2" text-anchor="start">0</text><text transform="translate(735.6,387.4) scale(0.949,1)" font-size="29.2" text-anchor="start">bar</text>
<text transform="translate(648.4,436.1) scale(0.949,1)" font-size="29.2" text-anchor="start" font-style="italic">ν</text><text transform="translate(667.1,436.1) scale(0.949,1)" font-size="29.2" text-anchor="start">KCl</text><text transform="translate(721.2,436.1) scale(0.949,1)" font-size="29.2" text-anchor="start">0</text><text transform="translate(742.1,436.1) scale(0.949,1)" font-size="29.2" text-anchor="start">bar</text>
<circle cx="618.5" cy="290.7" r="4.6"/>
<rect x="613.6" y="333.5" width="9.9" height="9.9" fill="#0000ff"/>
<circle cx="627" cy="382" r="4.1" fill="#fff" stroke="#ff0000" stroke-width="2.4"/>
<g fill="#fff" stroke="#ff8000" stroke-width="2.2" stroke-miterlimit="10"><path d="M627 426.1L631.45 433.8L622.55 433.8Z"/></g>
</g>
</svg>
</body></html>
